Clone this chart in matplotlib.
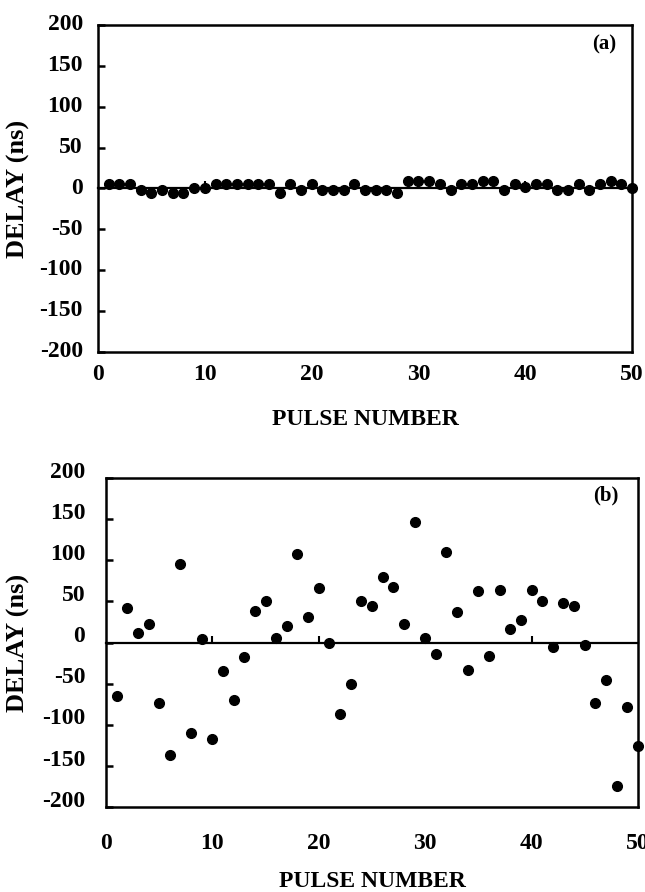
import matplotlib
matplotlib.use("Agg")
import matplotlib.pyplot as plt
import matplotlib.transforms as mtransforms
import numpy as np

# pulse index and measured delays (ns)
pulse = np.arange(1, 51)
delay_a = [5, 5, 5, -2, -6, -2, -6, -6, 0, 0,
           5, 5, 5, 5, 5, 5, -6, 5, -2, 5,
           -2, -2, -2, 5, -2, -2, -2, -6, 9, 9,
           9, 5, -2, 5, 5, 9, 9, -2, 5, 2,
           5, 5, -2, -2, 5, -2, 5, 9, 5, 0]
delay_b = [-65, 42, 12, 22, -74, -137, 95, -110, 4, -117,
           -35, -70, -18, 38, 51, 5, 20, 108, 31, 66,
           -1, -87, -50, 50, 44, 80, 67, 22, 147, 6,
           -14, 110, 37, -33, 63, -17, 64, 16, 27, 64,
           51, -6, 48, 44, -3, -74, -45, -174, -79, -126]

xticks = np.arange(0, 51, 10)
yticks = np.arange(-200, 201, 50)

plt.rcParams["font.family"] = ["Liberation Serif", "DejaVu Serif"]
plt.rcParams["font.weight"] = "bold"
plt.rcParams["axes.unicode_minus"] = False

fig = plt.figure(figsize=(6.45, 8.92), dpi=100)


def panel(rect, delay, tag, tagpos, ypad, xpad, ylab_x, yshift, xlabpad):
    ax = fig.add_axes(rect)
    ax.plot(pulse, delay, "o", color="black", markersize=7, clip_on=False, zorder=5)
    ax.set_xlim(0, 50)
    ax.set_ylim(-200, 200)
    ax.set_xticks(xticks)
    ax.set_yticks(yticks)
    ax.tick_params(axis="y", direction="in", length=5, width=1.8, labelsize=17, pad=ypad)
    ax.tick_params(axis="x", length=0, labelsize=17, pad=xpad)
    for s in ax.spines.values():
        s.set_linewidth(1.8)
    # zero line acts as the x axis, ticks pointing up
    zero = ax.secondary_xaxis(0.5)
    zero.set_xticks(xticks[1:-1])
    zero.tick_params(direction="out", length=5, width=1.5, labeltop=False)
    zero.spines["top"].set_linewidth(1.6)
    off = mtransforms.ScaledTranslation(0, yshift / 72, fig.dpi_scale_trans)
    for lab in ax.get_yticklabels():
        lab.set_transform(lab.get_transform() + off)
    ax.set_xlabel("PULSE NUMBER", fontsize=17, fontweight="bold", labelpad=xlabpad)
    ax.set_ylabel("DELAY (ns)", fontsize=19, fontweight="bold")
    ax.yaxis.set_label_coords(ylab_x, 0.5)
    ax.text(tagpos[0], tagpos[1], tag, transform=ax.transAxes, fontsize=15,
            fontweight="bold", ha="center", va="center")
    return ax


panel([0.152, 0.6054, 0.828, 0.3666], delay_a, "(a)", (0.948, 0.939), 11, 9, -0.127, 2, 17)
panel([0.1643, 0.0953, 0.8248, 0.3688], delay_b, "(b)", (0.939, 0.948), 15, 19, -0.142, 6, 12)

fig.savefig("out.png", dpi=100)
